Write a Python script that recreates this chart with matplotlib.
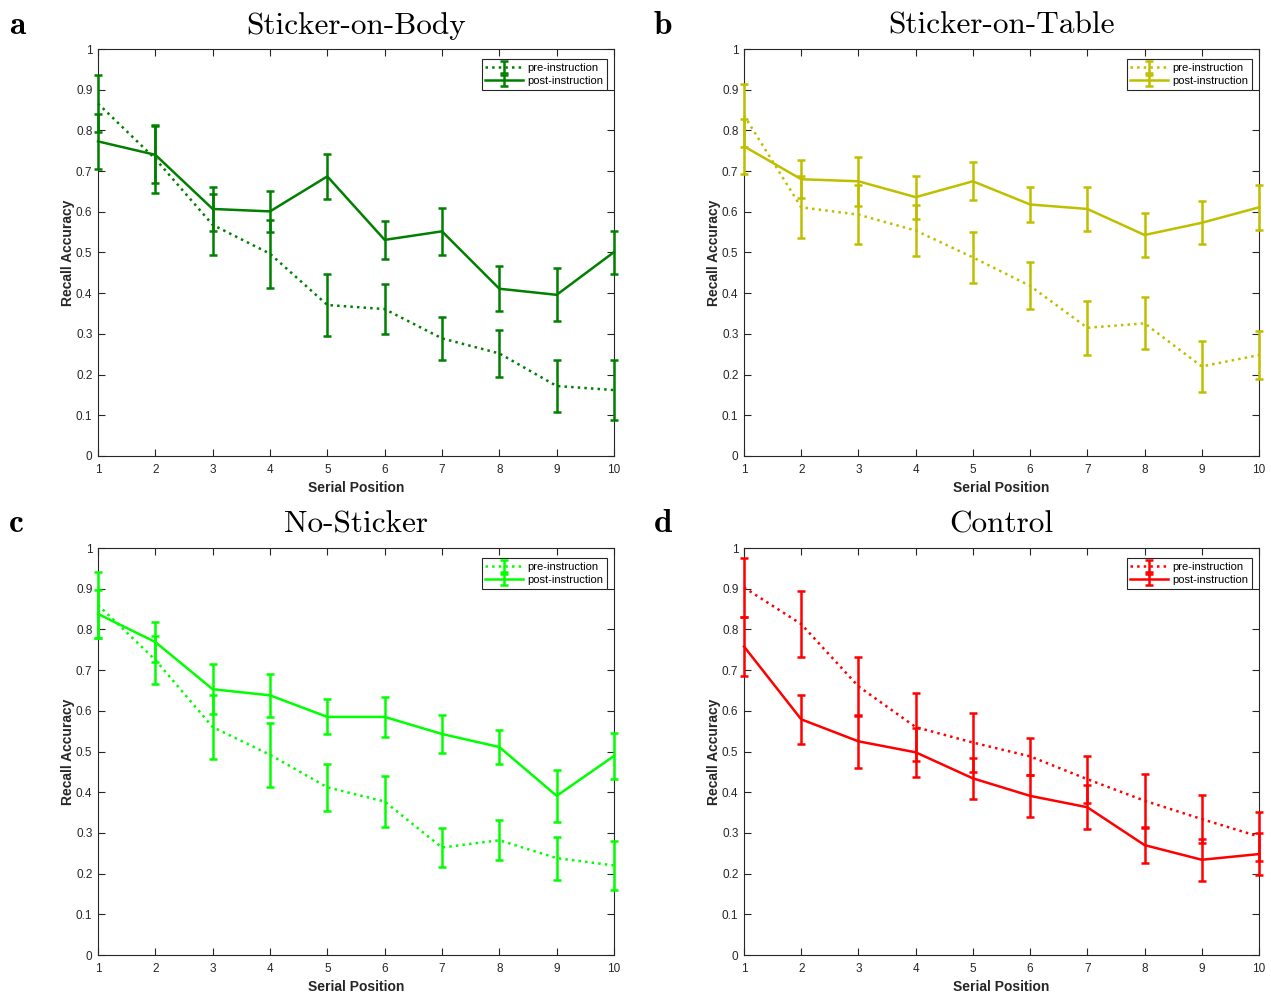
import numpy as np
import matplotlib
matplotlib.use("Agg")
import matplotlib.pyplot as plt
from matplotlib.ticker import FuncFormatter

plt.rcParams['font.family'] = ['Liberation Sans', 'DejaVu Sans']

positions = np.arange(1, 11)

# a: Sticker-on-Body
body_pre = [0.866, 0.73, 0.568, 0.497, 0.371, 0.361, 0.289, 0.252, 0.172, 0.162]
body_pre_err = [0.07, 0.083, 0.075, 0.083, 0.075, 0.062, 0.053, 0.057, 0.063, 0.073]
body_post = [0.773, 0.74, 0.607, 0.601, 0.687, 0.531, 0.552, 0.411, 0.396, 0.501]
body_post_err = [0.067, 0.07, 0.053, 0.05, 0.055, 0.046, 0.057, 0.055, 0.065, 0.053]

# b: Sticker-on-Table
table_pre = [0.837, 0.611, 0.593, 0.554, 0.488, 0.418, 0.315, 0.326, 0.22, 0.248]
table_pre_err = [0.078, 0.076, 0.073, 0.062, 0.062, 0.058, 0.067, 0.064, 0.063, 0.058]
table_post = [0.761, 0.68, 0.675, 0.636, 0.675, 0.618, 0.607, 0.543, 0.573, 0.611]
table_post_err = [0.067, 0.047, 0.06, 0.053, 0.047, 0.043, 0.053, 0.053, 0.053, 0.056]

# c: No-Sticker
none_pre = [0.86, 0.725, 0.56, 0.492, 0.412, 0.377, 0.264, 0.282, 0.238, 0.22]
none_pre_err = [0.08, 0.06, 0.078, 0.078, 0.057, 0.063, 0.047, 0.049, 0.053, 0.06]
none_post = [0.838, 0.769, 0.653, 0.638, 0.585, 0.585, 0.543, 0.511, 0.391, 0.489]
none_post_err = [0.06, 0.05, 0.062, 0.053, 0.043, 0.049, 0.047, 0.041, 0.063, 0.057]

# d: Control
ctrl_pre = [0.903, 0.813, 0.66, 0.56, 0.522, 0.488, 0.432, 0.379, 0.334, 0.291]
ctrl_pre_err = [0.072, 0.082, 0.073, 0.083, 0.073, 0.045, 0.058, 0.065, 0.06, 0.06]
ctrl_post = [0.758, 0.579, 0.525, 0.498, 0.434, 0.391, 0.363, 0.27, 0.234, 0.248]
ctrl_post_err = [0.073, 0.06, 0.065, 0.06, 0.05, 0.051, 0.054, 0.043, 0.051, 0.052]

panels = [
    ('a', 'Sticker-on-Body', '#008000', body_pre, body_pre_err, body_post, body_post_err),
    ('b', 'Sticker-on-Table', '#bfbf00', table_pre, table_pre_err, table_post, table_post_err),
    ('c', 'No-Sticker', '#00ff00', none_pre, none_pre_err, none_post, none_post_err),
    ('d', 'Control', '#ff0000', ctrl_pre, ctrl_pre_err, ctrl_post, ctrl_post_err),
]

W, H = 1271, 996
fig = plt.figure(figsize=(W / 100, H / 100), dpi=100)

# axes boxes in pixels: left, top, right, bottom
boxes = [(98, 49, 614, 456), (744, 49, 1259, 456),
         (98, 548, 614, 955), (744, 548, 1259, 955)]
letter_x = [9, 654, 9, 654]
axcol = '#262626'

for (letter, title, col, pre, pre_e, post, post_e), (l, t, r, b), lx in zip(panels, boxes, letter_x):
    ax = fig.add_axes([l / W, 1 - b / H, (r - l) / W, (b - t) / H])
    for vals, errs, ls, lab in [(pre, pre_e, ':', 'pre-instruction'),
                                (post, post_e, '-', 'post-instruction')]:
        eb = ax.errorbar(positions, vals, yerr=errs, color=col, ls=ls, lw=1.8,
                         elinewidth=1.8, capsize=3, capthick=1.8, label=lab, zorder=3)
        for art in eb.lines[1] + eb.lines[2]:
            art.set_clip_on(False)
        eb.lines[0].set_clip_on(False)
    ax.set_xlim(1, 10)
    ax.set_ylim(0, 1)
    ax.set_xticks(positions)
    ax.set_yticks(np.arange(0, 1.01, 0.1))
    ax.yaxis.set_major_formatter(FuncFormatter(lambda v, p: '%g' % round(v, 1)))
    ax.tick_params(direction='in', top=True, right=True, length=5, width=0.8,
                   labelsize=8.5, colors=axcol)
    ax.tick_params(axis='x', pad=6)
    ax.tick_params(axis='y', pad=4)
    for s in ax.spines.values():
        s.set_color(axcol)
        s.set_linewidth(0.8)
    ax.set_xlabel('Serial Position', fontsize=10, fontweight='bold', color=axcol, labelpad=3)
    ax.set_ylabel('Recall Accuracy', fontsize=10, fontweight='bold', color=axcol, labelpad=1)
    ax.set_title(title, family='cmr10', fontsize=22.5, pad=11)
    pw, ph = r - l, b - t
    leg = ax.legend(loc='upper right', bbox_to_anchor=(1 - 7 / pw, 1 - 10 / ph),
                    fontsize=8, fancybox=False, framealpha=1,
                    edgecolor=axcol, borderpad=0.35, labelspacing=0.3,
                    handlelength=3.4, handletextpad=0.35, borderaxespad=0)
    leg.get_frame().set_linewidth(0.8)
    fig.text(lx / W, 1 - (t - 24) / H, letter, family='cmb10', fontsize=24,
             ha='left', va='center')

fig.savefig('out.png', dpi=100)
